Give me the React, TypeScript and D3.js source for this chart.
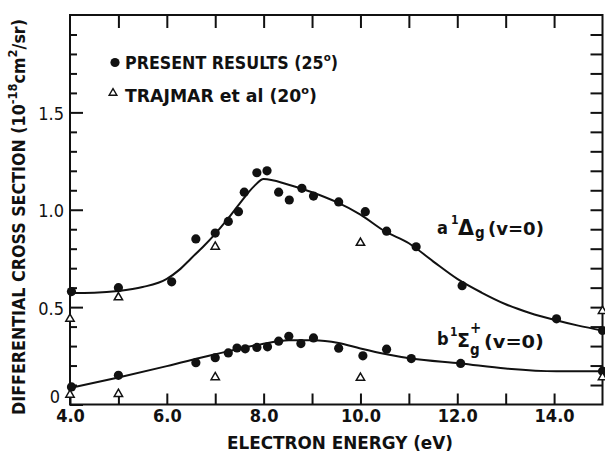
import {useEffect, useRef} from 'react';
import * as d3             from 'd3';

// a 1Δg (v=0), present results (25°)
const presentEnergyA = [4.03, 5.0, 6.1, 6.6, 7.0, 7.27, 7.48, 7.6, 7.86, 8.07, 8.31, 8.53, 8.79, 9.03, 9.55, 10.1, 10.54, 11.15, 12.1, 14.05, 15.0]
	, presentValueA = [0.58, 0.60, 0.63, 0.85, 0.88, 0.94, 0.99, 1.09, 1.19, 1.20, 1.09, 1.05, 1.11, 1.07, 1.04, 0.99, 0.89, 0.81, 0.61, 0.44, 0.38]
	// b 1Σg+ (v=0), present results (25°)
	, presentEnergyB = [4.03, 5.0, 6.6, 7.0, 7.27, 7.45, 7.62, 7.86, 8.08, 8.31, 8.52, 8.77, 9.03, 9.55, 10.05, 10.54, 11.05, 12.07, 15.0]
	, presentValueB = [0.09, 0.15, 0.215, 0.24, 0.265, 0.29, 0.286, 0.293, 0.296, 0.325, 0.35, 0.313, 0.342, 0.289, 0.25, 0.284, 0.236, 0.211, 0.171]
	// Trajmar et al (20°)
	, trajmarEnergy = [4.0, 4.0, 5.0, 5.0, 7.0, 7.0, 10.0, 10.0, 15.0, 15.0]
	, trajmarValue = [0.44, 0.05, 0.55, 0.054, 0.81, 0.14, 0.83, 0.137, 0.48, 0.14]
	// hand drawn fits
	, fitEnergyA = [4.0, 4.5, 5.0, 5.5, 6.0, 6.25, 6.5, 6.75, 7.0, 7.25, 7.5, 7.8, 8.0, 8.5, 9.0, 9.5, 10.0, 10.5, 11.0, 11.5, 12.0, 12.5, 13.0, 13.5, 14.0, 14.5, 15.0]
	, fitValueA = [0.572, 0.574, 0.583, 0.603, 0.645, 0.69, 0.75, 0.81, 0.876, 0.95, 1.03, 1.12, 1.158, 1.13, 1.09, 1.04, 0.975, 0.89, 0.828, 0.735, 0.645, 0.575, 0.515, 0.47, 0.435, 0.405, 0.38]
	, fitEnergyB = [4.0, 5.0, 6.0, 7.0, 7.93, 8.52, 9.03, 9.55, 10.0, 10.54, 11.05, 12.07, 13.0, 14.05, 15.0]
	, fitValueB = [0.085, 0.139, 0.197, 0.258, 0.308, 0.33, 0.33, 0.316, 0.288, 0.258, 0.236, 0.211, 0.185, 0.171, 0.171]
	// axes
	, xTickValues = [4, 5, 6, 7, 8, 9, 10, 11, 12, 13, 14]
	, xTickLabels = ['4.0', '', '6.0', '', '8.0', '', '10.0', '', '12.0', '', '14.0']
	, yTickValues = [0, 0.1, 0.2, 0.3, 0.4, 0.5, 0.6, 0.7, 0.8, 0.9, 1.0, 1.1, 1.2, 1.3, 1.4, 1.5, 1.6, 1.7, 1.8, 1.9]
	, yMajorValues = [0, 0.5, 1.0, 1.5]
	, yTickLabels = ['0', '0.5', '1.0', '1.5']
	;

const W = 605
	, H = 454
	, ink = '#111'
	, font = '"DejaVu Sans Condensed", "DejaVu Sans", sans-serif'
	;

function App(){
	const svgRef = useRef<SVGSVGElement>(null);

	useEffect(()=>{
		let svg = d3.select(svgRef.current)
			, x = d3.scaleLinear().domain([4, 15]).range([70, 602.5])
			, y = d3.scaleLinear().domain([0, 2]).range([404.5, 15])
			, line = d3.line<number>().curve(d3.curveMonotoneX)
			;

		svg.selectAll('*').remove();

		// 边框
		svg.append('rect').attr('x', x(4)).attr('y', y(2)).attr('width', x(15) - x(4)).attr('height', y(0) - y(2))
			.attr('fill', 'none').attr('stroke', ink).attr('stroke-width', 2);

		// 坐标轴
		let bottom = svg.append('g').attr('transform', `translate(0,${y(0)})`)
			.call(d3.axisBottom(x).tickValues(xTickValues).tickSizeInner(-11).tickSizeOuter(0).tickPadding(5)
				.tickFormat((d, i)=>xTickLabels[i]));
		let top = svg.append('g').attr('transform', `translate(0,${y(2)})`)
			.call(d3.axisTop(x).tickValues(xTickValues.slice(1)).tickSizeInner(-13).tickSizeOuter(0).tickFormat(()=>''));
		let left = svg.append('g').attr('transform', `translate(${x(4)},0)`)
			.call(d3.axisLeft(y).tickValues(yTickValues).tickSizeInner(-7).tickSizeOuter(0).tickPadding(6)
				.tickFormat((d)=>{
					let k = yMajorValues.indexOf(+d);
					return k < 0 ? '' : yTickLabels[k];
				}));
		let right = svg.append('g').attr('transform', `translate(${x(15)},0)`)
			.call(d3.axisRight(y).tickValues(yTickValues.slice(1)).tickSizeInner(-12).tickSizeOuter(0).tickFormat(()=>''));

		[bottom, top, left, right].forEach((g)=>{
			g.select('.domain').remove();
			g.selectAll('line').attr('stroke', ink).attr('stroke-width', 2);
			g.selectAll('text').attr('fill', ink).style('font-family', font);
		});
		left.selectAll<SVGLineElement, number>('.tick line').attr('x2', (d)=>yMajorValues.indexOf(+d) < 0 ? 7 : 13);
		bottom.selectAll('text').style('font-size', '18px').style('font-weight', 'bold');
		left.selectAll<SVGTextElement, number>('text').style('font-size', '18px')
			.attr('dy', (d)=>+d === 0 ? '-0.1em' : '0.4em').attr('x', (d)=>+d === 0 ? -10 : -6);

		// 拟合曲线
		svg.append('path').attr('d', line(fitEnergyA.map((e, i)=>[x(e), y(fitValueA[i])] as [number, number])))
			.attr('fill', 'none').attr('stroke', ink).attr('stroke-width', 2);
		svg.append('path').attr('d', line(fitEnergyB.map((e, i)=>[x(e), y(fitValueB[i])] as [number, number])))
			.attr('fill', 'none').attr('stroke', ink).attr('stroke-width', 2);

		// 数据点
		svg.append('g').selectAll('circle').data(presentEnergyA.map((e, i)=>[e, presentValueA[i]])).enter()
			.append('circle').attr('cx', (d)=>x(d[0])).attr('cy', (d)=>y(d[1])).attr('r', 4.6).attr('fill', ink);
		svg.append('g').selectAll('circle').data(presentEnergyB.map((e, i)=>[e, presentValueB[i]])).enter()
			.append('circle').attr('cx', (d)=>x(d[0])).attr('cy', (d)=>y(d[1])).attr('r', 4.6).attr('fill', ink);

		let tri = d3.symbol(d3.symbolTriangle, 30);
		svg.append('g').selectAll('path').data(trajmarEnergy.map((e, i)=>[e, trajmarValue[i]])).enter()
			.append('path').attr('d', tri).attr('transform', (d)=>`translate(${x(d[0])},${y(d[1])})`)
			.attr('fill', '#fff').attr('stroke', ink).attr('stroke-width', 1.5);

		// 图例
		svg.append('circle').attr('cx', 115).attr('cy', 62.5).attr('r', 4.6).attr('fill', ink);
		svg.append('path').attr('d', d3.symbol(d3.symbolTriangle, 26)).attr('transform', 'translate(113,93)')
			.attr('fill', '#fff').attr('stroke', ink).attr('stroke-width', 1.4);

		let degText = (tx: number, ty: number, len: number, label: string)=>{
			let t = svg.append('text').attr('x', tx).attr('y', ty).attr('textLength', len).attr('lengthAdjust', 'spacingAndGlyphs')
				.attr('fill', ink).style('font-family', font).style('font-size', '17px').style('font-weight', 'bold');
			t.append('tspan').text(label);
			t.append('tspan').attr('dy', -8).style('font-size', '11px').text('o');
			t.append('tspan').attr('dy', 8).text(')');
		};
		degText(125, 68.5, 213, 'PRESENT RESULTS (25');
		degText(125, 101.5, 192, 'TRAJMAR et al (20');

		// 坐标标题
		svg.append('text').attr('x', 340).attr('y', 449).attr('text-anchor', 'middle')
			.attr('textLength', 226).attr('lengthAdjust', 'spacingAndGlyphs')
			.attr('fill', ink).style('font-family', font).style('font-size', '18px').style('font-weight', 'bold')
			.text('ELECTRON ENERGY (eV)');

		let yt = svg.append('text').attr('transform', 'translate(25,217) rotate(-90)').attr('text-anchor', 'middle')
			.attr('textLength', 396).attr('lengthAdjust', 'spacingAndGlyphs')
			.attr('fill', ink).style('font-family', font).style('font-size', '18px').style('font-weight', 'bold');
		yt.append('tspan').text('DIFFERENTIAL CROSS SECTION (10');
		yt.append('tspan').attr('dy', -8).style('font-size', '13px').text('-18');
		yt.append('tspan').attr('dy', 8).text('cm');
		yt.append('tspan').attr('dy', -8).style('font-size', '13px').text('2');
		yt.append('tspan').attr('dy', 8).text('/sr)');

		// 曲线标注
		let pieces = (ex: number, ev: number, list: [string, number, number, number, number?][])=>{
			let px = x(ex)
				, py = y(ev)
				;

			list.forEach(([s, dx, dy, size, len])=>{
				let t = svg.append('text').attr('x', px + dx).attr('y', py + dy)
					.attr('fill', ink).style('font-family', font).style('font-size', size + 'px').style('font-weight', 'bold')
					.text(s);
				if( len ){
					t.attr('textLength', len).attr('lengthAdjust', 'spacingAndGlyphs');
				}
			});
		};
		pieces(11.58, 0.878, [
			['a', 0, 0, 18]
			, ['1', 14, -10, 12]
			, ['Δ', 21, 1, 21, 16]
			, ['g', 38, 4, 15]
			, ['(v=0)', 51, 1, 17, 56]
		]);
		pieces(11.58, 0.305, [
			['b', 0, 0, 18]
			, ['1', 13, -9, 12]
			, ['Σ', 20, 2, 19, 13]
			, ['+', 33, -12, 15]
			, ['g', 33, 10, 15]
			, ['(v=0)', 47, 3, 17, 60]
		]);
	}, []);

	return (<svg ref={svgRef}
	             width={W}
	             height={H}
	             style={{position: 'absolute', left: 0, top: 0, background: '#fff'}}></svg>);
}

export default App;
